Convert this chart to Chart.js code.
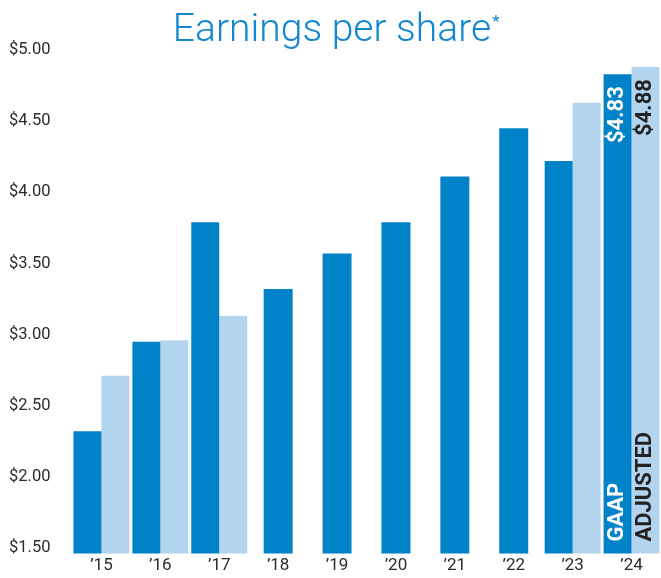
<!DOCTYPE html>
<html>
<head>
<meta charset="utf-8">
<script src="https://cdn.jsdelivr.net/npm/chart.js@4"></script>
<style>
body{margin:0;background:#fff;}
#caja{width:661px;height:578px;}
</style>
</head>
<body>
<div id="caja"><canvas id="grafico"></canvas></div>
<script>

const titulo = "Earnings per share";

const anios = ["\u201915","\u201916","\u201917","\u201918","\u201919","\u201920","\u201921","\u201922","\u201923","\u201924"];

const gaap = [2.32,2.95,3.79,3.32,3.57,3.79,4.11,4.45,4.22,4.83];

const ajustado = [2.71,2.96,3.13,null,null,null,null,null,4.63,4.88];

const nombres = ["GAAP","ADJUSTED"];

const marcasY = [1.5,2,2.5,3,3.5,4,4.5,5];

const azul = "#0082c8";
const celeste = "#b3d4ee";

// titulo con asterisco arriba
const pluginTitulo = {
id:"titulo",
afterDraw(chart){
const c = chart.ctx;
c.save();
c.fillStyle = "#1287cf";
c.font = "300 39px Roboto";
let ancho = c.measureText(titulo).width;
let x = 332 - ancho/2;
c.textBaseline = "alphabetic";
c.fillText(titulo, x, 41);
c.font = "400 17px Roboto";
c.fillText("*", x + ancho + 1, 27);
c.restore();
}
};

// texto vertical dentro de las barras del ultimo año
const pluginEtiquetas = {
id:"etiquetas",
afterDatasetsDraw(chart){
const c = chart.ctx;
const ultimo = anios.length - 1;
const colores = ["#ffffff","#222222"];
const series = [gaap, ajustado];
const abajo = chart.scales.y.bottom;
c.save();
c.font = "bold 22px Roboto";
c.textBaseline = "middle";
for(let i=0;i<2;i++){
let barra = chart.getDatasetMeta(i).data[ultimo];
if(!barra) continue;
c.fillStyle = colores[i];

c.save();
c.translate(barra.x, barra.y);
c.rotate(-Math.PI/2);
c.textAlign = "right";
c.fillText("$" + series[i][ultimo].toFixed(2), -12, 0);
c.restore();

c.save();
c.translate(barra.x, abajo);
c.rotate(-Math.PI/2);
c.textAlign = "left";
c.fillText(nombres[i], 12, 0);
c.restore();
}
c.restore();
}
};

const ctx = document.getElementById("grafico");

let grafico = new Chart(ctx, {

type:"bar",

data:{
labels:anios,
datasets:[
{
label:nombres[0],
data:gaap,
backgroundColor:azul
},
{
label:nombres[1],
data:ajustado,
backgroundColor:celeste
}
]
},

options:{
responsive:true,
maintainAspectRatio:false,
animation:false,
skipNull:true,
categoryPercentage:0.95,
barPercentage:1,
maxBarThickness:29,
layout:{
padding:{top:50,right:0,left:9,bottom:0}
},
plugins:{
legend:{display:false},
tooltip:{enabled:false}
},
scales:{
x:{
grid:{display:false,drawTicks:false},
border:{display:false},
ticks:{
color:"#2b2b2b",
font:{family:"Roboto",size:17},
padding:2
}
},
y:{
min:1.46,
max:5,
grid:{display:false,drawTicks:false},
border:{display:false},
afterBuildTicks(escala){
escala.ticks = marcasY.map(v => ({value:v}));
},
afterFit(escala){
escala.width = 63;
},
ticks:{
color:"#2b2b2b",
crossAlign:"far",
font:{family:"Roboto",size:16.5},
callback:function(v){
return "$" + Number(v).toFixed(2);
}
}
}
}
},

plugins:[pluginTitulo, pluginEtiquetas]

});

</script>
</body>
</html>
